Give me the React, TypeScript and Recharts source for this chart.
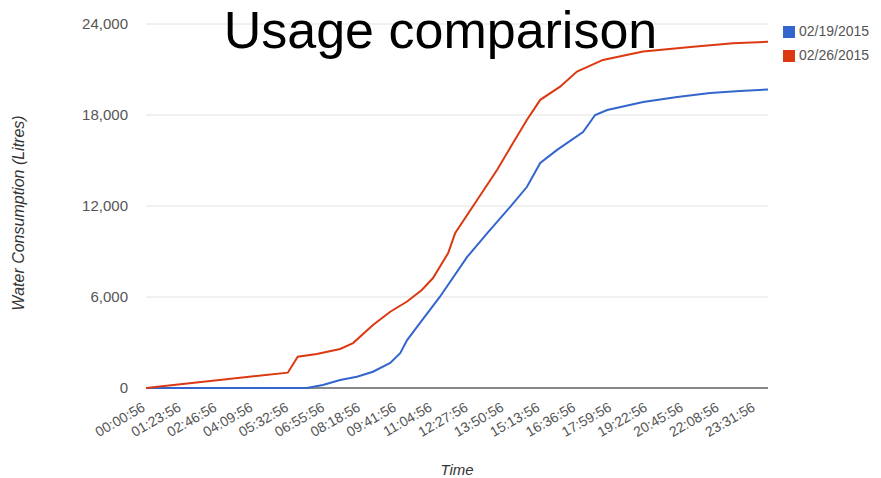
import { LineChart, Line, XAxis, YAxis, CartesianGrid, Legend, ReferenceLine } from 'recharts';

// readings for 02/19/2015 (time of day, litres used so far)
const feb19Times = [
  '00:00:56', '06:13:00', '06:50:00', '07:30:00', '08:09:00', '08:46:00', '09:26:00', '09:49:00',
  '10:05:00', '10:35:00', '11:21:00', '12:24:00', '13:10:00', '14:03:00', '14:42:00', '15:13:00',
  '15:52:00', '16:52:00', '17:20:00', '17:48:00', '19:11:00', '20:30:00', '21:46:00', '22:55:00', '23:59:56',
];
const feb19Usage = [
  0, 0, 200, 530, 745, 1075, 1650, 2300,
  3160, 4290, 6020, 8640, 10200, 11930, 13250, 14840,
  15700, 16880, 18000, 18330, 18860, 19190, 19450, 19580, 19680,
];

// readings for 02/26/2015
const feb26Times = [
  '00:00:56', '05:29:00', '05:52:00', '06:36:00', '07:30:00', '08:00:00', '08:46:00', '09:26:00',
  '10:05:00', '10:39:00', '11:05:00', '11:40:00', '11:56:00', '12:47:00', '13:33:00', '14:10:00',
  '14:42:00', '15:13:00', '15:59:00', '16:38:00', '17:38:00', '19:11:00', '21:07:00', '22:39:00', '23:59:56',
];
const feb26Usage = [
  0, 1010, 2065, 2240, 2570, 2960, 4150, 5030,
  5700, 6460, 7250, 8900, 10200, 12400, 14370, 16150,
  17670, 19000, 19870, 20860, 21630, 22180, 22500, 22730, 22830,
];

const timeTicks = [
  '00:00:56', '01:23:56', '02:46:56', '04:09:56', '05:32:56', '06:55:56', '08:18:56', '09:41:56', '11:04:56',
  '12:27:56', '13:50:56', '15:13:56', '16:36:56', '17:59:56', '19:22:56', '20:45:56', '22:08:56', '23:31:56',
];
const usageTicks = [0, 6000, 12000, 18000, 24000];

const toMinutes = (s: string) => {
  const [h, m, sec] = s.split(':').map(Number);
  return h * 60 + m + sec / 60;
};

const pad = (n: number) => String(n).padStart(2, '0');
const toClock = (mins: number) => {
  const total = Math.round(mins * 60);
  return `${pad(Math.floor(total / 3600))}:${pad(Math.floor((total % 3600) / 60))}:${pad(total % 60)}`;
};

const feb19 = feb19Times.map((t, i) => ({ time: toMinutes(t), usage: feb19Usage[i] }));
const feb26 = feb26Times.map((t, i) => ({ time: toMinutes(t), usage: feb26Usage[i] }));

function TimeTick({ x, y, payload }: any) {
  return (
    <g transform={`translate(${x},${y})`}>
      <text textAnchor="end" transform="rotate(-30)" fontSize={14} fill="#555" fontFamily="Arial, 'Liberation Sans', sans-serif">
        {toClock(payload.value)}
      </text>
    </g>
  );
}

export default function App() {
  return (
    <div style={{ position: 'relative', width: 881, height: 478, fontFamily: "Arial, 'Liberation Sans', sans-serif", background: '#fff' }}>
      <style>{'body{margin:0}'}</style>
      <LineChart
        width={881}
        height={478}
        margin={{ top: 24, right: 113, left: 0, bottom: 0 }}
      >
        <CartesianGrid vertical={false} stroke="#e2e2e2" />
        <XAxis
          type="number"
          dataKey="time"
          domain={[toMinutes('00:00:56'), toMinutes('23:59:56')]}
          ticks={timeTicks.map(toMinutes)}
          interval={0}
          height={90}
          axisLine={false}
          tickLine={false}
          tickSize={0}
          tickMargin={22}
          tick={<TimeTick />}
          allowDataOverflow
          label={{ value: 'Time', position: 'insideBottom', offset: 3, fontSize: 15, fontStyle: 'italic', fill: '#333' }}
        />
        <YAxis
          type="number"
          domain={[0, 24000]}
          ticks={usageTicks}
          width={146}
          axisLine={false}
          tickLine={false}
          tickSize={0}
          tickMargin={18}
          tick={{ fontSize: 15, fill: '#555' }}
          tickFormatter={(v: number) => v.toLocaleString('en-US')}
          label={{
            content: () => (
              <text
                x={18}
                y={213}
                transform="rotate(-90 18 213)"
                textAnchor="middle"
                dominantBaseline="central"
                fontSize={16}
                fontStyle="italic"
                fill="#333"
              >
                Water Consumption (Litres)
              </text>
            ),
          }}
        />
        <ReferenceLine y={0} stroke="#666" strokeWidth={1.5} />
        <Legend
          layout="vertical"
          align="center"
          verticalAlign="middle"
          iconType="square"
          iconSize={12}
          wrapperStyle={{ top: 19, left: 783, width: 98, fontSize: 14, lineHeight: '24px' }}
          formatter={(value: string) => <span style={{ color: '#555' }}>{value}</span>}
        />
        <Line data={feb19} dataKey="usage" name="02/19/2015" type="linear" stroke="#3366cc" strokeWidth={2} dot={false} isAnimationActive={false} />
        <Line data={feb26} dataKey="usage" name="02/26/2015" type="linear" stroke="#dc3912" strokeWidth={2} dot={false} isAnimationActive={false} />
      </LineChart>
      <div
        style={{
          position: 'absolute',
          top: 0,
          left: 0,
          width: 881,
          textAlign: 'center',
          fontSize: 52,
          lineHeight: 'normal',
          color: '#000',
          pointerEvents: 'none',
        }}
      >
        Usage comparison
      </div>
    </div>
  );
}
